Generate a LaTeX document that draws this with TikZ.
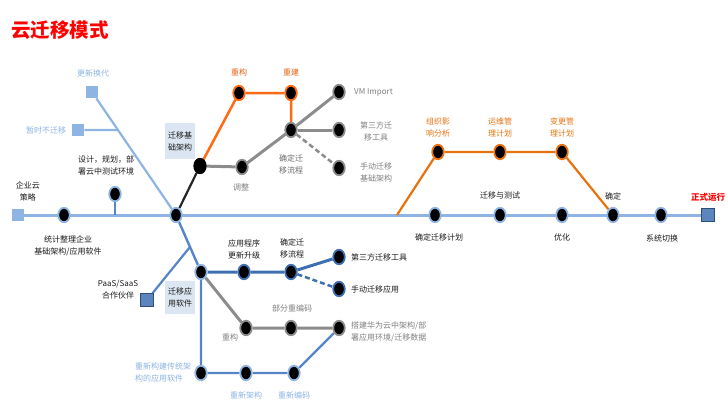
\documentclass[tikz,border=0pt]{standalone}
\usepackage{fontspec}
\setmainfont{Noto Sans CJK SC}
\usetikzlibrary{shapes.geometric,backgrounds,calc}
\definecolor{lb}{HTML}{8EB4E3}
\definecolor{lbt}{HTML}{8DB3E2}
\definecolor{db}{HTML}{3E6FB0}
\definecolor{mb}{HTML}{5585C5}
\definecolor{orA}{HTML}{FF6A13}
\definecolor{orB}{HTML}{E8720F}
\definecolor{gl}{HTML}{8C8C8C}
\definecolor{gt}{HTML}{7F7F7F}
\definecolor{boxf}{HTML}{DCE6F2}
\definecolor{txt}{HTML}{1A1A1A}
\tikzset{
  dot/.style={ellipse,fill=black,draw=#1,line width=1.8pt,minimum width=11.5pt,minimum height=14.5pt,inner sep=0pt},
  lsq/.style={rectangle,fill=lb,minimum size=12.5pt,inner sep=0pt},
  dsq/.style={rectangle,fill=#1,draw=db!70!black,line width=1pt,minimum size=12.5pt,inner sep=0pt},
  lbl/.style={font=\fontsize{8}{12}\selectfont,text=txt,align=center,inner sep=0pt},
  lbox/.style={lbl,fill=boxf,minimum width=30pt,minimum height=36pt},
  ln/.style={line width=#1},
}
\begin{document}
\begin{tikzpicture}[x=1pt,y=-1pt]
\useasboundingbox (0,0) rectangle (728,420);
% title
\node[anchor=west,inner sep=0pt,text=red,font=\fontsize{19.5}{22}\selectfont\bfseries] (title) at (11,30) {云迁移模式};
% label boxes
\node[lbox] (bx1) at (180,141) {迁移基\\础架构};
\node[lbox,minimum height=33pt] (bx2) at (180,297) {迁移应\\用软件};
% main line nodes
\node[lsq] (sqL) at (18,215) {};
\node[dot=lb] (n1) at (64,215) {};
\node[dot=lb] (n2) at (115,194) {};
\coordinate (n2b) at (115,215);
\node[dot=lb] (J) at (176,215) {};
\node[lsq] (sqU) at (92,92) {};
\node[lsq] (sqT) at (78,130) {};
\coordinate (cT) at ($(sqU)!0.309!(J)$);
\node[dot=black] (B) at (200,166) {};
\node[dot=orA] (o1) at (239,93) {};
\node[dot=orA] (o2) at (291,93) {};
\node[dot=gl] (g1) at (242,167) {};
\node[dot=gl] (g2) at (291,130) {};
\node[dot=gl] (g3) at (339,92) {};
\node[dot=gl] (g4) at (339,130) {};
\node[dot=gl] (g5) at (339,168) {};
\coordinate (oS) at (397,215);
\node[dot=orB] (p1) at (438,152) {};
\node[dot=orB] (p2) at (500,152) {};
\node[dot=orB] (p3) at (562,152) {};
\node[dot=lb] (m1) at (435,215) {};
\node[dot=lb] (m2) at (500,215) {};
\node[dot=lb] (m3) at (562,215) {};
\node[dot=lb] (m4) at (613,215) {};
\node[dot=lb] (m5) at (661,215) {};
\node[dsq=db!85] (sqR) at (708,215) {};
% bottom part
\node[dot=lb] (d1) at (201,272) {};
\coordinate (bJ) at ($(J)!0.56!(d1)$);
\node[dsq=db!85] (sqP) at (147,300) {};
\node[dot=db] (d2) at (244,272) {};
\node[dot=db] (d3) at (291,272) {};
\node[dot=db] (d4) at (339,257) {};
\node[dot=db] (d5) at (339,289) {};
\node[dot=gl] (r1) at (246,328) {};
\node[dot=gl] (r2) at (291,328) {};
\node[dot=gl] (r3) at (339,328) {};
\node[dot=lb] (e1) at (201,373) {};
\node[dot=lb] (e2) at (246,373) {};
\node[dot=lb] (e3) at (294,373) {};
% connectors
\begin{scope}[on background layer]
\draw[lb,ln=3pt] (sqL) -- (sqR);
\draw[mb,ln=1.6pt] (n2) -- (n2b);
\draw[lb,ln=2.2pt] (sqU) -- (J);
\draw[lb,ln=2.2pt] (sqT) -- (cT);
\draw[black!85,ln=2.2pt] (J) -- (B);
\draw[orA,ln=2.5pt] (B) -- (o1) -- (o2) -- (g2);
\draw[gl,ln=3pt] (B) -- (g1) -- (g2) -- (g3);
\draw[gl,ln=3pt] (g2) -- (g4);
\draw[gl,ln=2.5pt,dash pattern=on 5pt off 3pt] (g2) -- (g5);
\draw[orB,ln=2.2pt] (oS) -- (p1) -- (p2) -- (p3) -- (m4);
\draw[mb,ln=2.4pt] (J) -- (d1);
\draw[mb,ln=2.2pt] (bJ) -- (sqP);
\draw[db,ln=3pt] (d1) -- (d2) -- (d3) -- (d4);
\draw[db,ln=2.5pt,dash pattern=on 5pt off 3pt] (d3) -- (d5);
\draw[gl,ln=3pt] (d1) -- (r1) -- (r2) -- (r3);
\draw[mb,ln=2.4pt] (d1) -- (e1) -- (e2) -- (e3) -- (r3);
\end{scope}
% labels
\node[lbl] (t1) at (28,191) {企业云\\策略};
\node[lbl] (t2) at (68,246) {统计整理企业\\基础架构/应用软件};
\node[lbl] (t3) at (106,165) {设计，规划，部\\署云中测试环境};
\node[lbl,text=lbt] (t4) at (93,73) {更新换代};
\node[lbl,text=lbt] (t5) at (46,130) {暂时不迁移};
\node[lbl,text=orA!90!black] (t6) at (239,72) {重构};
\node[lbl,text=orA!90!black] (t7) at (291,72) {重建};
\node[lbl,text=gt] (t8) at (241,187) {调整};
\node[lbl,text=gt!85!black] (t9) at (291,164) {确定迁\\移流程};
\node[lbl,text=gt,anchor=west] (t10) at (354,92) {VM Import};
\node[lbl,text=gt] (t11) at (376,131) {第三方迁\\移工具};
\node[lbl,text=gt] (t12) at (376,172) {手动迁移\\基础架构};
\node[lbl,text=orB] (t13) at (438,127) {组织影\\响分析};
\node[lbl,text=orB] (t14) at (500,127) {运维管\\理计划};
\node[lbl,text=orB] (t15) at (562,127) {变更管\\理计划};
\node[lbl] (t16) at (500,195) {迁移与测试};
\node[lbl] (t17) at (613,196) {确定};
\node[lbl,text=red,font=\fontsize{8.5}{12}\selectfont\bfseries] (t18) at (708,197) {正式运行};
\node[lbl] (t19) at (439,237) {确定迁移计划};
\node[lbl] (t20) at (562,237) {优化};
\node[lbl] (t21) at (662,238) {系统切换};
\node[lbl] (t22) at (118,290) {PaaS/SaaS\\合作伙伴};
\node[lbl] (t23) at (244,249) {应用程序\\更新升级};
\node[lbl] (t24) at (292,248) {确定迁\\移流程};
\node[lbl,anchor=west] (t25) at (351,257) {第三方迁移工具};
\node[lbl,anchor=west] (t26) at (351,289) {手动迁移应用};
\node[lbl,text=gt] (t27) at (292,308) {部分重编码};
\node[lbl,text=gt] (t28) at (230,337) {重构};
\node[lbl,text=gt,anchor=west,align=left] (t29) at (351,332) {搭建华为云中架构/部\\署应用环境/迁移数据};
\node[lbl,text=lbt,anchor=west,align=left] (t30) at (135,372) {重新构建传统架\\构的应用软件};
\node[lbl,text=lbt] (t31) at (246,395) {重新架构};
\node[lbl,text=lbt] (t32) at (294,395) {重新编码};
\end{tikzpicture}
\end{document}
